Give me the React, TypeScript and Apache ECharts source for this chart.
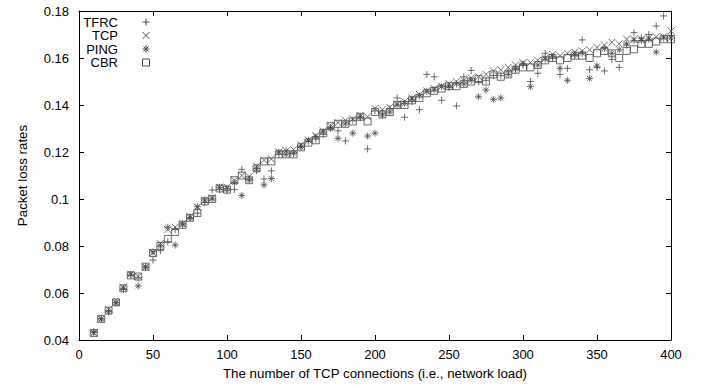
import React, { useEffect, useRef } from "react";
import * as echarts from "echarts";

const X = [
  10, 15, 20, 25, 30, 35, 40, 45, 50, 55,
  60, 65, 70, 75, 80, 85, 90, 95, 100, 105,
  110, 115, 120, 125, 130, 135, 140, 145, 150, 155,
  160, 165, 170, 175, 180, 185, 190, 195, 200, 205,
  210, 215, 220, 225, 230, 235, 240, 245, 250, 255,
  260, 265, 270, 275, 280, 285, 290, 295, 300, 305,
  310, 315, 320, 325, 330, 335, 340, 345, 350, 355,
  360, 365, 370, 375, 380, 385, 390, 395, 400,
];

const TFRC = [
  0.0435, 0.049, 0.0525, 0.056, 0.0615, 0.0675, 0.0665, 0.071, 0.074, 0.078,
  0.0818, 0.087, 0.0895, 0.092, 0.094, 0.0985, 0.1038, 0.104, 0.1035, 0.104,
  0.1126, 0.1085, 0.112, 0.1085, 0.112, 0.119, 0.1205, 0.1195, 0.1225, 0.1245,
  0.1255, 0.1275, 0.1305, 0.129, 0.1247, 0.1335, 0.1345, 0.1213, 0.1375, 0.1365,
  0.1385, 0.143, 0.1348, 0.1415, 0.138, 0.153, 0.152, 0.142, 0.1475, 0.1396,
  0.152, 0.1547, 0.15, 0.1505, 0.1525, 0.1525, 0.1545, 0.155, 0.157, 0.15,
  0.1535, 0.162, 0.16, 0.153, 0.1556, 0.161, 0.1677, 0.155, 0.156, 0.1545,
  0.1594, 0.156, 0.1655, 0.1708, 0.1685, 0.17, 0.1736, 0.1779, 0.1695,
];

const TCP = [
  0.043, 0.049, 0.053, 0.056, 0.0625, 0.068, 0.067, 0.071, 0.077, 0.081,
  0.087, 0.088, 0.0895, 0.0925, 0.0965, 0.0995, 0.1005, 0.105, 0.105, 0.108,
  0.11, 0.1095, 0.114, 0.1165, 0.117, 0.12, 0.1205, 0.121, 0.123, 0.125,
  0.127, 0.129, 0.131, 0.1325, 0.1335, 0.134, 0.1355, 0.135, 0.1385, 0.138,
  0.139, 0.1405, 0.1415, 0.143, 0.1445, 0.146, 0.147, 0.148, 0.149, 0.15,
  0.1505, 0.1515, 0.152, 0.153, 0.1545, 0.155, 0.156, 0.157, 0.158, 0.158,
  0.159, 0.16, 0.1615, 0.161, 0.162, 0.1625, 0.163, 0.1635, 0.1645, 0.1655,
  0.1667, 0.166, 0.168, 0.168, 0.168, 0.1685, 0.169, 0.169, 0.1715,
];

const PING = [
  0.0432, 0.049, 0.052, 0.0558, 0.062, 0.068, 0.063, 0.0712, 0.0775, 0.08,
  0.088, 0.0804, 0.089, 0.092, 0.0967, 0.0996, 0.1, 0.105, 0.1045, 0.107,
  0.1015, 0.108, 0.113, 0.106, 0.1087, 0.12, 0.119, 0.1195, 0.122, 0.125,
  0.1265, 0.1286, 0.13, 0.1258, 0.132, 0.128, 0.135, 0.1268, 0.128, 0.1357,
  0.137, 0.14, 0.1407, 0.1425, 0.1438, 0.1457, 0.1464, 0.1478, 0.148, 0.149,
  0.149, 0.1505, 0.1435, 0.1464, 0.1424, 0.143, 0.153, 0.1555, 0.1575, 0.1478,
  0.157, 0.1595, 0.1605, 0.1556, 0.1505, 0.1615, 0.162, 0.1513, 0.1566, 0.164,
  0.162, 0.1635, 0.166, 0.1675, 0.1675, 0.168, 0.1625, 0.1685, 0.1685,
];

const CBR = [
  0.043, 0.049, 0.0525, 0.056, 0.062, 0.0675, 0.067, 0.0712, 0.077, 0.08,
  0.083, 0.086, 0.089, 0.092, 0.094, 0.099, 0.1, 0.1045, 0.104, 0.108,
  0.11, 0.108, 0.113, 0.116, 0.116, 0.119, 0.119, 0.119, 0.122, 0.124,
  0.125, 0.128, 0.131, 0.132, 0.132, 0.133, 0.135, 0.133, 0.137, 0.136,
  0.137, 0.14, 0.14, 0.142, 0.143, 0.145, 0.146, 0.147, 0.148, 0.148,
  0.149, 0.15, 0.151, 0.15, 0.153, 0.152, 0.153, 0.155, 0.156, 0.156,
  0.157, 0.159, 0.16, 0.159, 0.16, 0.161, 0.161, 0.16, 0.162, 0.163,
  0.162, 0.16, 0.163, 0.1637, 0.166, 0.166, 0.167, 0.168, 0.168,
];

const SERIES_NAMES = ["TFRC", "TCP", "PING", "CBR"];
const X_NAME = "The number of TCP connections (i.e., network load)";
const Y_NAME = "Packet loss rates";

const FONT = "'Liberation Sans', Arial, Helvetica, sans-serif";
const MARK = "#4a4a4a";

const SYMBOLS = [
  "path://M0,5L10,5M5,0L5,10",
  "path://M0,0L10,10M10,0L0,10",
  "path://M0,5L10,5M5,0L5,10M1.5,1.5L8.5,8.5M8.5,1.5L1.5,8.5",
  "path://M0,0L10,0L10,10L0,10Z",
];

function legendIcon(i: number, cx: number, cy: number): any[] {
  const h = 3.5;
  const st = { stroke: MARK, lineWidth: 1, fill: "none" };
  const ln = (x1: number, y1: number, x2: number, y2: number) => ({
    type: "line",
    shape: { x1, y1, x2, y2 },
    style: st,
    silent: true,
  });
  if (i === 0) return [ln(cx - h, cy, cx + h, cy), ln(cx, cy - h, cx, cy + h)];
  if (i === 1) return [ln(cx - h, cy - h, cx + h, cy + h), ln(cx + h, cy - h, cx - h, cy + h)];
  if (i === 2)
    return [
      ln(cx - h, cy, cx + h, cy),
      ln(cx, cy - h, cx, cy + h),
      ln(cx - 2.5, cy - 2.5, cx + 2.5, cy + 2.5),
      ln(cx + 2.5, cy - 2.5, cx - 2.5, cy + 2.5),
    ];
  return [
    {
      type: "rect",
      shape: { x: cx - h, y: cy - h, width: 2 * h, height: 2 * h },
      style: st,
      silent: true,
    },
  ];
}

export default function App() {
  const ref = useRef<HTMLDivElement>(null);

  useEffect(() => {
    if (!ref.current) return;
    const chart = echarts.init(ref.current, undefined, { renderer: "svg" });
    const all = [TFRC, TCP, PING, CBR];
    const rows = [22, 35.5, 49, 62.5];
    const graphics: any[] = [];
    SERIES_NAMES.forEach((n, i) => {
      graphics.push({
        type: "text",
        x: 118,
        y: rows[i],
        silent: true,
        style: {
          text: n,
          align: "right",
          verticalAlign: "middle",
          fontSize: 13,
          fontFamily: FONT,
          fill: "#000",
        },
      });
      legendIcon(i, 146, rows[i]).forEach((g) => graphics.push(g));
    });

    const axisCommon = {
      type: "value",
      axisLine: { show: true, onZero: false, lineStyle: { color: "#000", width: 1 } },
      axisTick: { show: true, inside: true, length: 5, lineStyle: { color: "#000" } },
      splitLine: { show: false },
    };

    chart.setOption({
      animation: false,
      backgroundColor: "#fff",
      grid: { left: 79, right: 35, top: 11, bottom: 47, containLabel: false },
      xAxis: [
        {
          ...axisCommon,
          min: 0,
          max: 400,
          interval: 50,
          position: "bottom",
          axisLabel: { color: "#000", fontSize: 13, fontFamily: FONT, margin: 8 },
          name: X_NAME,
          nameLocation: "middle",
          nameGap: 27,
          nameTextStyle: { color: "#000", fontSize: 13.3, fontFamily: FONT },
        },
        {
          ...axisCommon,
          min: 0,
          max: 400,
          interval: 50,
          position: "top",
          axisLabel: { show: false },
        },
      ],
      yAxis: [
        {
          ...axisCommon,
          min: 0.04,
          max: 0.18,
          interval: 0.02,
          position: "left",
          axisLabel: { color: "#000", fontSize: 13, fontFamily: FONT, margin: 10 },
          name: Y_NAME,
          nameLocation: "middle",
          nameGap: 50,
          nameTextStyle: { color: "#000", fontSize: 13.3, fontFamily: FONT },
        },
        {
          ...axisCommon,
          min: 0.04,
          max: 0.18,
          interval: 0.02,
          position: "right",
          axisLabel: { show: false },
        },
      ],
      graphic: graphics,
      series: all.map((vals, i) => ({
        type: "scatter",
        name: SERIES_NAMES[i],
        xAxisIndex: 0,
        yAxisIndex: 0,
        symbol: SYMBOLS[i],
        symbolSize: 7,
        silent: true,
        itemStyle: { color: "rgba(0,0,0,0)", borderColor: MARK, borderWidth: 1 },
        emphasis: { disabled: true },
        data: X.map((x, j) => [x, vals[j]]),
      })),
    });
    return () => chart.dispose();
  }, []);

  return (
    <div
      ref={ref}
      style={{ position: "fixed", left: 0, top: 0, width: 706, height: 387, background: "#fff" }}
    />
  );
}
